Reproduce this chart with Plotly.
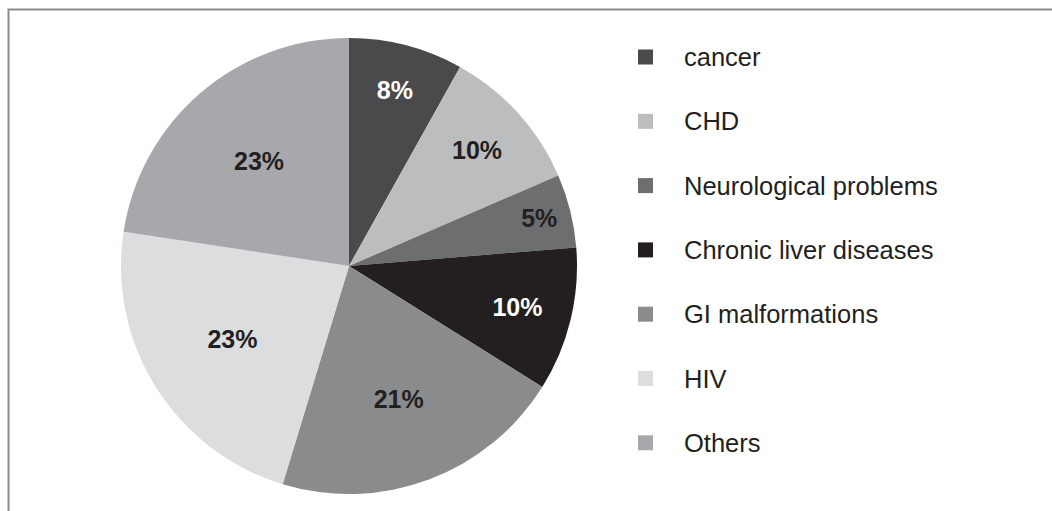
import plotly.graph_objects as go

labels = ["cancer", "CHD", "Neurological problems", "Chronic liver diseases",
          "GI malformations", "HIV", "Others"]
shares = [8.1, 10.4, 5.2, 10.2, 20.8, 22.7, 22.6]
colors = ["#4a4a4c", "#bcbdbf", "#6d6e70", "#231f20", "#8a8b8d", "#dcdddf", "#a7a8ab"]
text_colors = ["#ffffff", "#231f20", "#231f20", "#ffffff", "#231f20", "#231f20", "#231f20"]

W, H = 1052, 511
FONT = "Arial, 'Liberation Sans', Helvetica, sans-serif"

fig = go.Figure()
fig.add_trace(go.Pie(
    labels=labels,
    values=shares,
    sort=False,
    direction="clockwise",
    rotation=0,
    marker=dict(colors=colors, line=dict(width=0)),
    texttemplate="<b>%{percent:.0%}</b>",
    textposition="inside",
    insidetextorientation="horizontal",
    textfont=dict(family=FONT, size=25, color=text_colors),
    domain=dict(x=[121 / W, 577 / W], y=[(H - 494) / H, (H - 38) / H]),
    showlegend=False,
    hoverinfo="label+percent",
))

# Legend built from the label/colour arrays
shapes = []
annotations = []
y0, step = 57, 64.3
for i, (lab, col) in enumerate(zip(labels, colors)):
    yc = y0 + i * step
    shapes.append(dict(type="rect", xref="paper", yref="paper",
                       x0=638 / W, x1=653 / W,
                       y0=(H - yc - 7.5) / H, y1=(H - yc + 7.5) / H,
                       fillcolor=col, line=dict(width=0)))
    annotations.append(dict(xref="paper", yref="paper", x=682 / W, y=(H - yc) / H,
                            xanchor="left", yanchor="middle", text=lab, showarrow=False,
                            font=dict(family=FONT, size=25.5, color="#231f20")))

# frame border (top and left edges visible)
shapes.append(dict(type="rect", xref="paper", yref="paper",
                   x0=8.5 / W, x1=1.05, y0=-0.05, y1=(H - 9.5) / H,
                   line=dict(color="#8a8a8a", width=2), fillcolor="rgba(0,0,0,0)"))

fig.update_layout(
    width=W, height=H,
    margin=dict(l=0, r=0, t=0, b=0),
    paper_bgcolor="#ffffff",
    plot_bgcolor="#ffffff",
    shapes=shapes,
    annotations=annotations,
    showlegend=False,
)

fig.write_html("out.html",
               config={"displayModeBar": False},
               post_script="document.body.style.margin='0px';document.body.style.overflow='hidden';")
